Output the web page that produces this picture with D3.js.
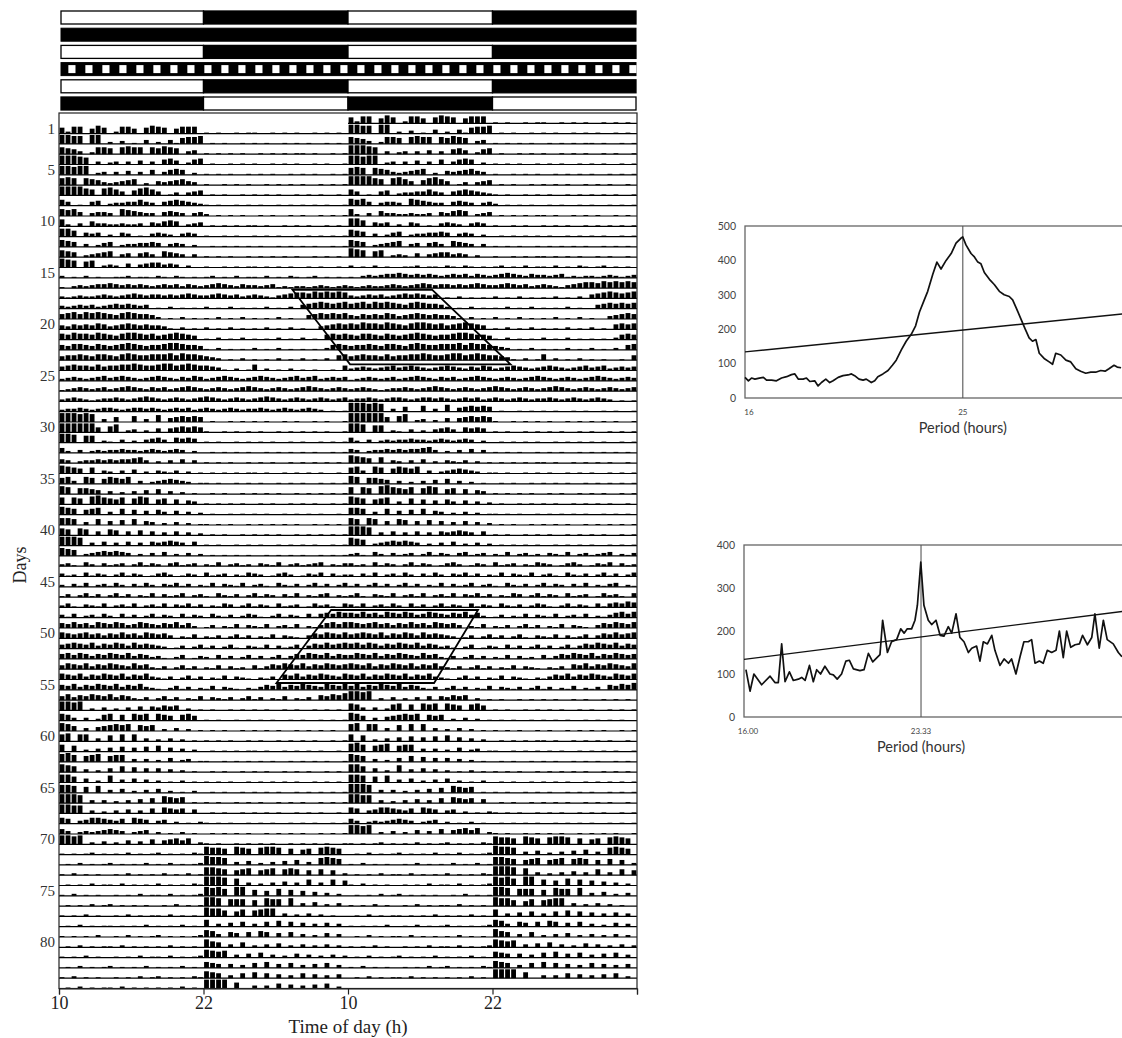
<!DOCTYPE html>
<html>
<head>
<meta charset="utf-8">
<script src="https://cdn.jsdelivr.net/npm/d3@7"></script>
<style>
  body { margin: 0; background: #fff; }
  svg { display: block; }
</style>
</head>
<body>
<svg id="chart" width="1122" height="1038"></svg>
<script>
// ---- data ----

// lighting schedule strips above the actogram (one per 14-day block)
const barSchedules = ['LD', 'DD', 'LD', 'ULT', 'LD', 'DL']
const ldSegments = [[0, 12, 'L'], [12, 24, 'D'], [24, 36, 'L'], [36, 48, 'D']]
const ultradianCycles = 34   // light/dark cycles across the 48 h strip

const timeTicks = [0, 12, 24, 36, 48]
const timeTickLabels = ['10', '22', '10', '22', '']
const dayLabels = [1, 5, 10, 15, 20, 25, 30, 35, 40, 45, 50, 55, 60, 65, 70, 75, 80]

// activity per day, 48 half-hour bins from 10:00, level 0-9
const activity = [
  // LD, days 1-14
  '62770586 02775068 76057770 10100101 10010101 00101010',
  '99880990 20301040 20416778 01010010 10100101 01001010',
  '76530277 60787707 68760340 10101010 01010101 10100101',
  '99987030 23030403 05640256 01001010 10010101 00101001',
  '99899023 03040305 03565020 10101001 01010010 10100101',
  '78707653 23456020 43456430 10010101 00101010 10010101',
  '99997607 86405786 40130345 01010010 10101001 01010010',
  '64010450 23344643 04565432 10100101 01001010 10101001',
  '76740344 30765433 04543034 20101010 01010010 10010101',
  '72030533 22322304 35650234 01010101 10100101 01001010',
  '88604340 20430103 43203430 10010100 10101001 01010101',
  '76503024 50233445 40343020 01010101 01001010 10100101',
  '76502345 60340453 06543030 10101001 01010101 00101010',
  '98706702 32040345 53430200 10010101 10101010 01010010',
  // DD, days 15-28
  '20102010 01120110 21021010 12010201 10201021 01201010',
  '10232344 54343432 34342432 34543243 32341212 21232123',
  '21232234 32345434 43434543 34543423 43213456 65767676',
  '32343423 45454340 10201010 20102010 10201020 45676567',
  '56757676 54676554 20102010 10201020 10102010 04565656',
  '43545465 34565454 43102010 20102010 10201020 10034565',
  '65766576 54677656 45676540 10201020 10102010 20105656',
  '54665465 45676545 56776554 10201010 20102010 10102565',
  '45565466 54676556 66757665 43201020 10102010 20102056',
  '45655464 55667655 67756765 54310201 60201020 10100105',
  '23432345 34543234 54324354 23454323 45432345 34523434',
  '12343234 23454324 34234543 23432345 43234323 45432343',
  '23432123 34323454 32343234 54323432 34543234 32343234',
  '23343234 43234434 32343423 43234323 34323432 34320101',
  // LD, days 29-42
  '99989803 05006030 70456565 01001010 10100101 00101001',
  '99999950 68023020 40456565 10010101 01001010 10101001',
  '99807702 10302034 53054540 10100101 01010010 10010101',
  '52030232 33433234 32343020 01010101 00101010 10100101',
  '43023343 43445630 20304030 10101001 01010010 10101010',
  '87650603 20304020 32130201 01010101 10100101 01010010',
  '67307605 76570302 34543201 10100101 01001010 10010101',
  '87066540 30203040 50302010 01010010 10101001 01010101',
  '70760897 65706870 56050430 10101010 01010010 10100101',
  '87605670 30605040 53040302 01001010 10100101 01010010',
  '77603060 40506043 02030201 10101001 01010101 00101010',
  '76076040 65040504 03040302 01010010 10101001 01010101',
  '99980304 03040304 34543040 10100101 01001010 10100101',
  '87602345 45430203 04020302 01010101 00101010 10010101',
  // ultradian light cycles, days 43-56
  '23104203 12302413 20341230 21402312 03214023 12340213',
  '31204132 02413201 34201320 41230214 32013420 13240312',
  '20314023 14203142 03241302 14032140 23104213 02413024',
  '13024130 24130214 03124023 10421302 41320314 02134021',
  '24103214 02314023 14032413 02143024 13204123 01423104',
  '31402314 20413024 13204132 04213024 31024132 04145465',
  '54645365 46534654 35463520 13021403 21402314 02135646',
  '65456453 54645365 45302140 21302413 02140321 03546546',
  '45654635 46536454 32013024 13024103 21403124 03546456',
  '56465354 65463542 31024013 20413024 13024135 46546354',
  '46546354 65436452 13024130 21403120 41354654 63546545',
  '65463546 54635463 21302413 02140321 02130546 35465436',
  '54635465 46354632 10241302 14032102 13546354 65436546',
  '46354654 63542130 24130214 03213024 13021402 13054657',
  // LD, days 57-70
  '99890203 02030404 35450201 01001010 10100101 00101010',
  '76303026 70607670 76506750 10100101 01010010 10010101',
  '87503045 67670656 02030201 01010010 10101001 01010100',
  '78077030 60707030 20302010 10101001 01001010 10100101',
  '70602030 40504050 60403020 01010101 10100101 01010010',
  '89706780 67703030 20402301 10010101 01010010 10101001',
  '87603020 40605040 40302010 01010010 10100101 01001010',
  '88604020 70304030 20102010 10101001 01010101 00101010',
  '88706070 30402030 40201020 01010010 10101001 01010101',
  '99980303 02030405 07656010 10100101 01001010 10010101',
  '99880302 03040305 06545040 01010010 10101001 01010010',
  '65034665 43506540 34020102 10101001 01010010 10100101',
  '53023234 54302340 20102010 01010101 00101010 10010101',
  '99890203 02040305 04564602 10100101 01010010 10101001',
  // inverted LD, days 71-84
  '10101201 01020101 20101021 87760876 07887060 56078760',
  '01020101 20101020 10201012 98870304 02030405 03078760',
  '10201010 01020101 02010201 88760567 05670676 05060502',
  '01010201 10201010 20101021 99980703 02030403 06030605',
  '10201010 01010201 10201012 98970990 60507060 50403020',
  '01010201 20101010 01020101 99807770 60877080 30402030',
  '10102010 01020101 10201010 98860570 67880302 03020100',
  '01020101 10101020 10102010 70304050 30506050 40304030',
  '10101020 01020101 20101012 76305405 06504050 30204030',
  '01020101 10201010 10201010 86503050 20304020 30203020',
  '10102010 01010201 10201012 87670304 05030204 03020302',
  '01020101 20101020 10102010 65404030 50604050 30405030',
  '10201010 01010201 20101021 76503050 60504030 50403040',
  '01020101 10201010 10102010 99990600 30305040 30405020'
]

// free-running bands marked on the actogram: [hour from 10:00, row]
const bandOutlines = [
  [[19.4, 17.18], [31.0, 17.18], [37.5, 24.4], [24.17, 24.4]],
  [[22.6, 48.25], [34.8, 48.25], [31.15, 55.34], [18.06, 55.34]]
]

// periodogram for constant darkness
const periodDD = [
  [16.00, 60], [16.14, 50], [16.27, 58], [16.41, 55], [16.59, 58], [16.76, 60], [16.89, 52],
  [17.10, 52], [17.30, 50], [17.51, 58], [17.72, 62], [17.92, 68], [18.06, 70], [18.20, 55],
  [18.40, 55], [18.54, 58], [18.68, 48], [18.88, 50], [19.02, 35], [19.16, 45], [19.34, 55],
  [19.50, 45], [19.64, 50], [19.85, 60], [20.05, 65], [20.26, 67], [20.40, 70], [20.53, 65],
  [20.71, 55], [20.88, 52], [21.01, 55], [21.22, 45], [21.36, 50], [21.49, 62], [21.70, 70],
  [21.91, 80], [22.09, 95], [22.25, 110], [22.46, 140], [22.66, 165], [22.87, 185], [23.05, 210],
  [23.21, 250], [23.38, 280], [23.55, 310], [23.76, 360], [23.93, 395], [24.10, 375], [24.31, 400],
  [24.52, 420], [24.72, 450], [24.93, 465], [25.00, 468], [25.13, 445], [25.34, 420], [25.48, 410],
  [25.62, 395], [25.75, 390], [25.89, 365], [26.10, 345], [26.30, 330], [26.51, 310], [26.71, 300],
  [26.92, 295], [27.06, 285], [27.22, 260], [27.40, 230], [27.58, 200], [27.74, 175], [27.88, 165],
  [28.02, 170], [28.16, 130], [28.36, 115], [28.57, 105], [28.71, 98], [28.84, 130], [29.05, 125],
  [29.26, 110], [29.46, 105], [29.67, 85], [29.87, 78], [30.08, 72], [30.29, 75], [30.49, 75],
  [30.70, 80], [30.88, 78], [31.04, 85], [31.25, 95], [31.38, 90], [31.54, 88]
]
const thresholdDD = [[16, 134], [32, 247]]
const peakDD = 25

// periodogram for ultradian light cycles
const periodULT = [
  [16.08, 110], [16.25, 60], [16.41, 100], [16.73, 75], [17.08, 95], [17.28, 80], [17.42, 80],
  [17.56, 170], [17.70, 82], [17.88, 105], [18.04, 85], [18.25, 88], [18.39, 92], [18.53, 85],
  [18.71, 120], [18.87, 82], [19.01, 110], [19.17, 100], [19.35, 118], [19.56, 100], [19.70, 98],
  [19.86, 88], [20.04, 100], [20.22, 130], [20.36, 132], [20.53, 112], [20.80, 108], [20.97, 110],
  [21.15, 148], [21.33, 128], [21.63, 145], [21.74, 225], [21.94, 150], [22.11, 175], [22.32, 180],
  [22.49, 205], [22.63, 195], [22.76, 205], [22.94, 205], [23.08, 225], [23.18, 260], [23.32, 360],
  [23.45, 260], [23.63, 225], [23.77, 215], [23.95, 225], [24.12, 190], [24.28, 188], [24.46, 210],
  [24.60, 195], [24.78, 240], [24.94, 185], [25.11, 175], [25.29, 150], [25.43, 160], [25.63, 165],
  [25.77, 130], [25.91, 175], [26.08, 170], [26.26, 190], [26.39, 155], [26.60, 120], [26.77, 135],
  [26.95, 125], [27.08, 135], [27.26, 100], [27.43, 140], [27.59, 175], [27.77, 175], [27.91, 180],
  [28.05, 125], [28.23, 130], [28.39, 125], [28.56, 155], [28.74, 150], [28.92, 155], [29.06, 200],
  [29.22, 138], [29.36, 200], [29.53, 162], [29.71, 168], [29.89, 170], [30.02, 190], [30.22, 168],
  [30.40, 185], [30.53, 240], [30.71, 160], [30.88, 225], [31.04, 180], [31.29, 170], [31.50, 150],
  [31.65, 140]
]
const thresholdULT = [[16, 134], [32, 248]]
const peakULT = 23.33

// ---- drawing ----

const serif = '"Liberation Serif", "Times New Roman", serif'
const sans = 'Lato, "Open Sans", sans-serif'

const svg = d3.select('#chart')

const days = activity.map(s => s.replace(/\s/g, '').padEnd(48, '0').slice(0, 48).split('').map(Number))
const nDays = days.length
const nRows = nDays + 1
const pitch = 10.3
const actoTop = 113

const x = d3.scaleLinear().domain([0, 48]).range([59, 637])
const rowY = d3.scaleLinear().domain([0, nRows]).range([actoTop, actoTop + nRows * pitch])
const level = d3.scaleLinear().domain([0, 9]).range([0, pitch - 1.4])

// schedule strips
const strip = svg.append('g').attr('class', 'schedule')
barSchedules.forEach((type, i) => {
  const y0 = 11 + i * 17.2, hgt = 13
  const g = strip.append('g')
  if (type === 'DD') {
    g.append('rect').attr('x', x(0) + 2).attr('y', y0).attr('width', x(48) - x(0) - 3).attr('height', hgt)
      .attr('fill', '#000').attr('stroke', '#000')
  } else if (type === 'ULT') {
    g.append('rect').attr('x', x(0) + 2).attr('y', y0).attr('width', x(48) - x(0) - 3).attr('height', hgt)
      .attr('fill', '#000').attr('stroke', '#000')
    const T = 48 / ultradianCycles
    g.selectAll('rect.on').data(d3.range(ultradianCycles))
      .join('rect').attr('class', 'on')
      .attr('x', k => x(k * T + T * 0.55))
      .attr('y', y0 + 2.5)
      .attr('width', x(T * 0.42) - x(0))
      .attr('height', hgt - 5)
      .attr('fill', '#fff')
  } else {
    g.selectAll('rect').data(ldSegments)
      .join('rect')
      .attr('x', d => Math.max(x(d[0]), x(0) + 2))
      .attr('y', y0)
      .attr('width', d => x(d[1]) - Math.max(x(d[0]), x(0) + 2) - (d[1] === 48 ? 1 : 0))
      .attr('height', hgt)
      .attr('fill', d => (d[2] === 'L') === (type === 'LD') ? '#fff' : '#000')
      .attr('stroke', '#000')
      .attr('stroke-width', 1.3)
  }
})

// actogram, double plotted: row r shows day r then day r+1
const bins = []
days.forEach((lv, i) => {
  const day = i + 1
  lv.forEach((v, b) => {
    if (!v) return
    bins.push({ row: day, t: b * 0.5, v })
    bins.push({ row: day - 1, t: 24 + b * 0.5, v })
  })
})

const acto = svg.append('g').attr('class', 'actogram')
const binW = x(0.5) - x(0)

acto.append('g').selectAll('rect')
  .data(bins)
  .join('rect')
  .attr('x', d => x(d.t) + binW * 0.1)
  .attr('width', binW * 0.8)
  .attr('y', d => rowY(d.row + 1) - level(d.v))
  .attr('height', d => level(d.v))
  .attr('fill', '#000')

const baselines = []
d3.range(nRows).forEach(r => {
  if (r >= 1) baselines.push({ r, a: 0, b: 24 })
  if (r + 1 <= nDays) baselines.push({ r, a: 24, b: 48 })
})
acto.append('g').selectAll('line')
  .data(baselines)
  .join('line')
  .attr('x1', d => x(d.a)).attr('x2', d => x(d.b))
  .attr('y1', d => rowY(d.r + 1)).attr('y2', d => rowY(d.r + 1))
  .attr('stroke', '#000').attr('stroke-width', 1.2)

acto.append('rect')
  .attr('x', x(0)).attr('y', rowY(0))
  .attr('width', x(48) - x(0)).attr('height', rowY(nRows) - rowY(0))
  .attr('fill', 'none').attr('stroke', '#222').attr('stroke-width', 1.2)

acto.append('g').selectAll('polygon')
  .data(bandOutlines)
  .join('polygon')
  .attr('points', d => d.map(p => [x(p[0]), rowY(p[1])].join(',')).join(' '))
  .attr('fill', 'none').attr('stroke', '#000').attr('stroke-width', 1.8)

// day labels
acto.append('g').selectAll('text')
  .data(dayLabels)
  .join('text')
  .attr('x', 55)
  .attr('y', d => rowY(d + 0.5))
  .attr('dy', '0.35em')
  .attr('text-anchor', 'end')
  .attr('font-family', serif).attr('font-size', 15).attr('fill', '#333')
  .text(d => d)

svg.append('text')
  .attr('transform', 'translate(26,565) rotate(-90)')
  .attr('text-anchor', 'middle')
  .attr('font-family', serif).attr('font-size', 18).attr('fill', '#222')
  .text('Days')

// time axis
const xAxis = d3.axisBottom(x)
  .tickValues(timeTicks)
  .tickFormat((d, i) => timeTickLabels[i])
  .tickSize(6).tickPadding(2)

const axG = svg.append('g')
  .attr('transform', `translate(0,${rowY(nRows)})`)
  .call(xAxis)
axG.select('.domain').attr('stroke', '#222').attr('stroke-width', 1.2)
axG.selectAll('.tick line').attr('stroke', '#222').attr('stroke-width', 1.2)
axG.selectAll('.tick text').attr('font-family', serif).attr('font-size', 18).attr('fill', '#222')

svg.append('text')
  .attr('x', x(24)).attr('y', 1033)
  .attr('text-anchor', 'middle')
  .attr('font-family', serif).attr('font-size', 19).attr('fill', '#222')
  .text('Time of day (h)')

// periodograms
function drawPeriodogram(opts) {
  const px = d3.scaleLinear().domain([16, 32]).range([opts.left, opts.left + 16 * opts.perHour])
  const py = d3.scaleLinear().domain([0, opts.yMax]).range([opts.bottom, opts.top])
  const g = svg.append('g')

  g.append('rect')
    .attr('x', px(16)).attr('y', py(opts.yMax))
    .attr('width', px(32) - px(16)).attr('height', py(0) - py(opts.yMax))
    .attr('fill', 'none').attr('stroke', '#666').attr('stroke-width', 1.3)

  const yAxis = d3.axisLeft(py).tickValues(d3.range(0, opts.yMax + 1, 100)).tickSize(0).tickPadding(9)
  const ya = g.append('g').attr('transform', `translate(${px(16)},0)`).call(yAxis)
  ya.select('.domain').remove()
  ya.selectAll('text').attr('font-family', sans).attr('font-size', 10.5).attr('fill', '#444')

  g.append('line')
    .attr('x1', px(opts.peak)).attr('x2', px(opts.peak))
    .attr('y1', py(opts.yMax)).attr('y2', py(0))
    .attr('stroke', '#555').attr('stroke-width', 1.1)

  g.append('path')
    .datum(opts.threshold)
    .attr('d', d3.line().x(d => px(d[0])).y(d => py(d[1])))
    .attr('fill', 'none').attr('stroke', '#111').attr('stroke-width', 1.4)

  g.append('path')
    .datum(opts.data)
    .attr('d', d3.line().x(d => px(d[0])).y(d => py(d[1])))
    .attr('fill', 'none').attr('stroke', '#111').attr('stroke-width', 1.7)
    .attr('stroke-linejoin', 'round')

  g.selectAll('text.xl')
    .data(opts.xLabels)
    .join('text').attr('class', 'xl')
    .attr('x', d => px(d[0]) + (d[0] === 16 ? 4 : 0))
    .attr('y', py(0) + 17)
    .attr('text-anchor', 'middle')
    .attr('font-family', sans).attr('font-size', 8).attr('fill', '#444')
    .text(d => d[1])

  g.append('text')
    .attr('x', px(opts.peak)).attr('y', py(0) + 35)
    .attr('text-anchor', 'middle')
    .attr('font-family', sans).attr('font-size', 14.5).attr('fill', '#333')
    .text('Period (hours)')
}

drawPeriodogram({
  data: periodDD, threshold: thresholdDD, peak: peakDD, yMax: 500,
  left: 745, perHour: 24.2, top: 226, bottom: 398,
  xLabels: [[16, '16'], [25, '25']]
})

drawPeriodogram({
  data: periodULT, threshold: thresholdULT, peak: peakULT, yMax: 400,
  left: 744, perHour: 24.15, top: 545, bottom: 717,
  xLabels: [[16, '16.00'], [23.33, '23.33']]
})
</script>
</body>
</html>
